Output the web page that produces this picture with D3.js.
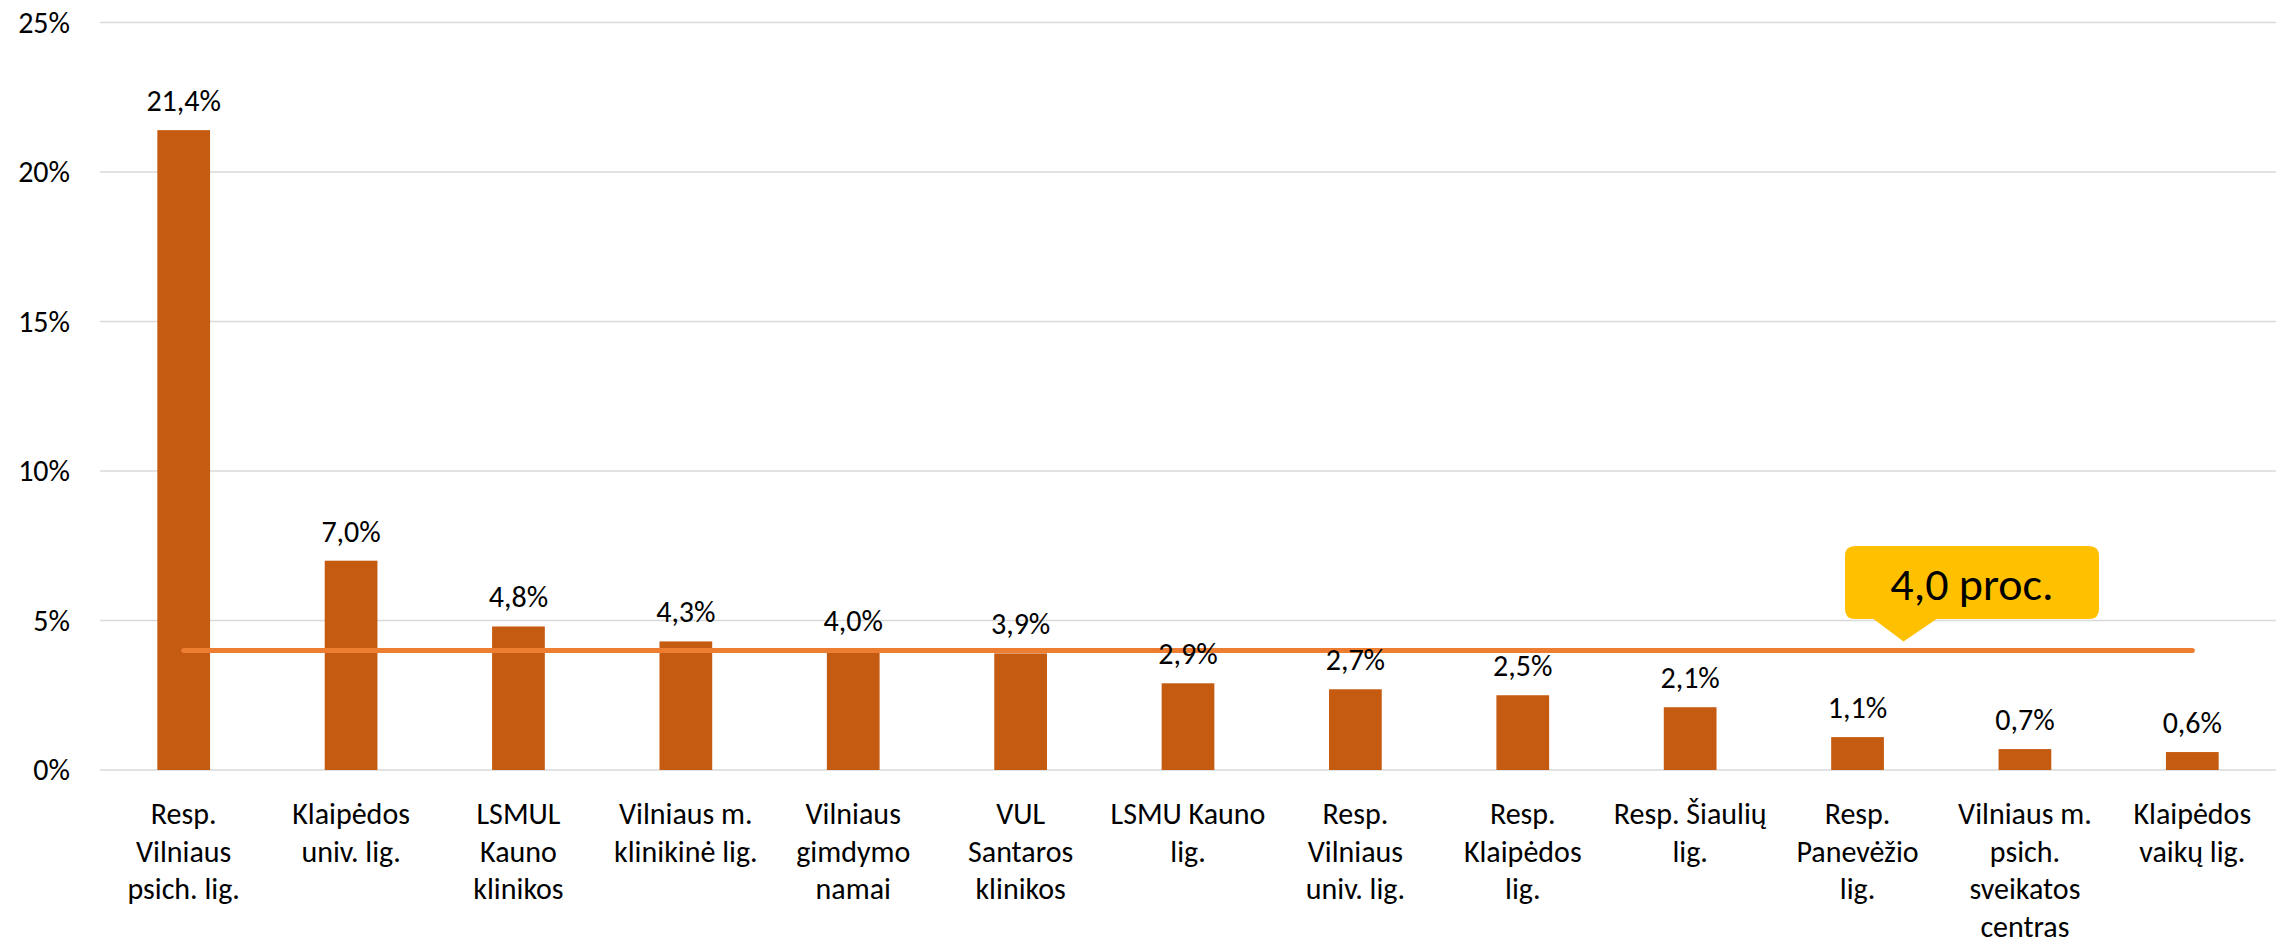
<!DOCTYPE html>
<html>
<head>
<meta charset="utf-8">
<script src="https://cdn.jsdelivr.net/npm/d3@7"></script>
<style>
  html, body { margin: 0; padding: 0; background: #fff; }
  svg { display: block; }
  text { font-family: Carlito, Calibri, Lato, "Open Sans", sans-serif; fill: #000; }
</style>
</head>
<body>
<svg id="chart" width="2285" height="942"></svg>
<script>
const categories = [
  ["Resp.", "Vilniaus", "psich. lig."],
  ["Klaipėdos", "univ. lig."],
  ["LSMUL", "Kauno", "klinikos"],
  ["Vilniaus m.", "klinikinė lig."],
  ["Vilniaus", "gimdymo", "namai"],
  ["VUL", "Santaros", "klinikos"],
  ["LSMU Kauno", "lig."],
  ["Resp.", "Vilniaus", "univ. lig."],
  ["Resp.", "Klaipėdos", "lig."],
  ["Resp. Šiaulių", "lig."],
  ["Resp.", "Panevėžio", "lig."],
  ["Vilniaus m.", "psich.", "sveikatos", "centras"],
  ["Klaipėdos", "vaikų lig."]
];
const values = [21.4, 7.0, 4.8, 4.3, 4.0, 3.9, 2.9, 2.7, 2.5, 2.1, 1.1, 0.7, 0.6];
const valueLabels = ["21,4%", "7,0%", "4,8%", "4,3%", "4,0%", "3,9%", "2,9%", "2,7%", "2,5%", "2,1%", "1,1%", "0,7%", "0,6%"];
const yTicks = [0, 5, 10, 15, 20, 25];
const yTickLabels = ["0%", "5%", "10%", "15%", "20%", "25%"];
const averageValue = 4.0;
const averageLabel = "4,0 proc.";

const svg = d3.select("#chart");
const pLeft = 100, pRight = 2276, pTop = 22.5, pBottom = 770;

const x = d3.scaleBand()
  .domain(d3.range(categories.length))
  .range([pLeft, pRight])
  .paddingInner(0.685)
  .paddingOuter(0.3425);
const y = d3.scaleLinear().domain([0, 25]).range([pBottom, pTop]);

// gridlines
svg.append("g").selectAll("line").data(yTicks).join("line")
  .attr("x1", pLeft).attr("x2", pRight)
  .attr("y1", d => y(d)).attr("y2", d => y(d))
  .attr("stroke", "#D9D9D9").attr("stroke-width", 1.5);

// y tick labels
svg.append("g").selectAll("text").data(yTicks).join("text")
  .attr("x", 70).attr("y", d => y(d) + 10)
  .attr("text-anchor", "end")
  .attr("font-size", 30)
  .text((d, i) => yTickLabels[i]);

// bars
svg.append("g").selectAll("rect").data(values).join("rect")
  .attr("x", (d, i) => x(i))
  .attr("y", d => y(d))
  .attr("width", x.bandwidth())
  .attr("height", d => pBottom - y(d))
  .attr("fill", "#C55A11");

// average line
const firstIdx = 0, lastIdx = categories.length - 1;
svg.append("line")
  .attr("x1", x(firstIdx) + x.bandwidth() / 2)
  .attr("x2", x(lastIdx) + x.bandwidth() / 2)
  .attr("y1", y(averageValue)).attr("y2", y(averageValue))
  .attr("stroke", "#ED7D31").attr("stroke-width", 5)
  .attr("stroke-linecap", "round");

// value labels
svg.append("g").selectAll("text").data(values).join("text")
  .attr("x", (d, i) => x(i) + x.bandwidth() / 2)
  .attr("y", d => y(d) - 19)
  .attr("text-anchor", "middle")
  .attr("font-size", 30)
  .text((d, i) => valueLabels[i]);

// category labels
const catG = svg.append("g");
categories.forEach((lines, i) => {
  const t = catG.append("text")
    .attr("x", x(i) + x.bandwidth() / 2)
    .attr("y", 824)
    .attr("text-anchor", "middle")
    .attr("font-size", 30);
  lines.forEach((ln, j) => {
    t.append("tspan")
      .attr("x", x(i) + x.bandwidth() / 2)
      .attr("dy", j === 0 ? 0 : 37.5)
      .text(ln);
  });
});

// callout
const tipX = x(10) + x.bandwidth() / 2 + 46;
const tipY = y(averageValue) - 9;
const boxL = 1845, boxR = 2099, boxT = 546, boxB = 619, rr = 10;
const callout = svg.append("g");
callout.append("path")
  .attr("d", `M${boxL + rr},${boxT} H${boxR - rr} Q${boxR},${boxT} ${boxR},${boxT + rr} V${boxB - rr} Q${boxR},${boxB} ${boxR - rr},${boxB}
    H${tipX + 33} L${tipX},${tipY} L${tipX - 30},${boxB} H${boxL + rr} Q${boxL},${boxB} ${boxL},${boxB - rr} V${boxT + rr} Q${boxL},${boxT} ${boxL + rr},${boxT} Z`)
  .attr("fill", "#FFC000");
callout.append("text")
  .attr("x", (boxL + boxR) / 2)
  .attr("y", 600)
  .attr("text-anchor", "middle")
  .attr("font-size", 46)
  .text(averageLabel);
</script>
</body>
</html>
